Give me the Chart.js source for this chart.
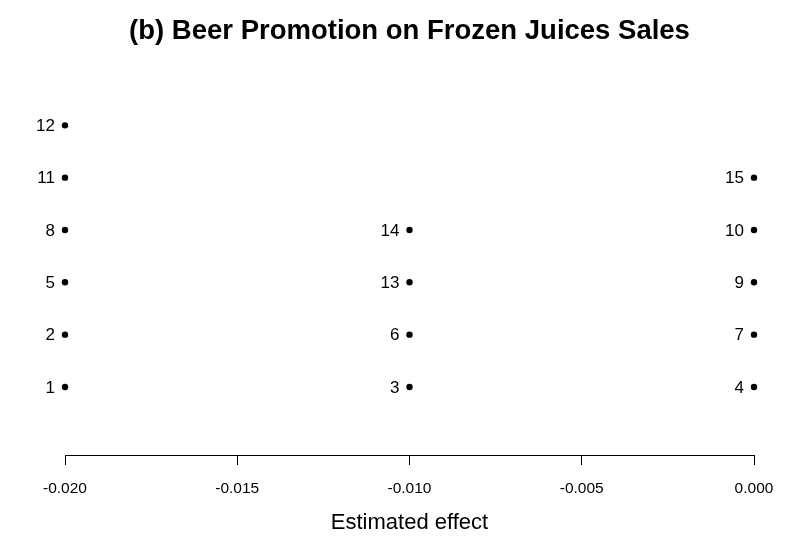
<!DOCTYPE html>
<html>
<head>
<meta charset="utf-8">
<script src="https://cdn.jsdelivr.net/npm/chart.js@4/dist/chart.umd.min.js"></script>
<style>
  html, body { margin: 0; padding: 0; background: #fff; }
  #wrap { width: 792px; height: 552px; }
</style>
</head>
<body>
<div id="wrap"><canvas id="dotChart"></canvas></div>
<script>
// item numbers, their estimated effect and the row they sit on
const itemLabels = ['1', '2', '5', '8', '11', '12', '3', '6', '13', '14', '4', '7', '9', '10', '15'];
const effects = [-0.020, -0.020, -0.020, -0.020, -0.020, -0.020,
                 -0.010, -0.010, -0.010, -0.010,
                 0.000, 0.000, 0.000, 0.000, 0.000];
const rows = [1, 2, 3, 4, 5, 6, 1, 2, 3, 4, 1, 2, 3, 4, 5];
const xTicks = [-0.020, -0.015, -0.010, -0.005, 0.000];

const points = effects.map((v, i) => ({ x: v, y: rows[i], label: itemLabels[i] }));

// draws the item number to the left of each dot
const pointLabels = {
  id: 'pointLabels',
  afterDatasetsDraw(chart) {
    const c = chart.ctx;
    const xs = chart.scales.x, ys = chart.scales.y;
    c.save();
    c.font = '17px "Liberation Sans", Arial, sans-serif';
    c.fillStyle = '#000';
    c.textAlign = 'right';
    c.textBaseline = 'middle';
    points.forEach(p => {
      c.fillText(p.label, xs.getPixelForValue(p.x) - 10, ys.getPixelForValue(p.y) + 1);
    });
    c.restore();
  }
};

new Chart(document.getElementById('dotChart'), {
  type: 'scatter',
  data: {
    datasets: [{
      data: points,
      clip: false,
      pointRadius: 3.2,
      pointBackgroundColor: '#000',
      pointBorderColor: '#000',
      pointBorderWidth: 0
    }]
  },
  plugins: [pointLabels],
  options: {
    responsive: true,
    maintainAspectRatio: false,
    animation: false,
    layout: { padding: { left: 65, right: 38, top: 0, bottom: 16 } },
    plugins: {
      legend: { display: false },
      tooltip: { enabled: false },
      title: {
        display: true,
        text: '(b) Beer Promotion on Frozen Juices Sales',
        color: '#000',
        font: { family: '"Liberation Sans", Arial, sans-serif', size: 27.5, weight: 'bold' },
        padding: { top: 15, bottom: 25 }
      }
    },
    scales: {
      x: {
        type: 'linear',
        min: -0.020,
        max: 0.000,
        afterBuildTicks: axis => { axis.ticks = xTicks.map(v => ({ value: v })); },
        grid: { drawOnChartArea: false, drawTicks: true, tickLength: 10, color: '#000', tickWidth: 1 },
        border: { display: true, color: '#000', width: 1 },
        ticks: {
          color: '#000',
          padding: 14,
          maxRotation: 0,
          font: { family: '"Liberation Sans", Arial, sans-serif', size: 15.5 },
          callback: v => v.toFixed(3)
        },
        title: {
          display: true,
          text: 'Estimated effect',
          color: '#000',
          font: { family: '"Liberation Sans", Arial, sans-serif', size: 22 },
          padding: { top: -2, bottom: 0 }
        }
      },
      y: {
        display: false,
        min: -0.3,
        max: 7
      }
    }
  }
});
</script>
</body>
</html>
